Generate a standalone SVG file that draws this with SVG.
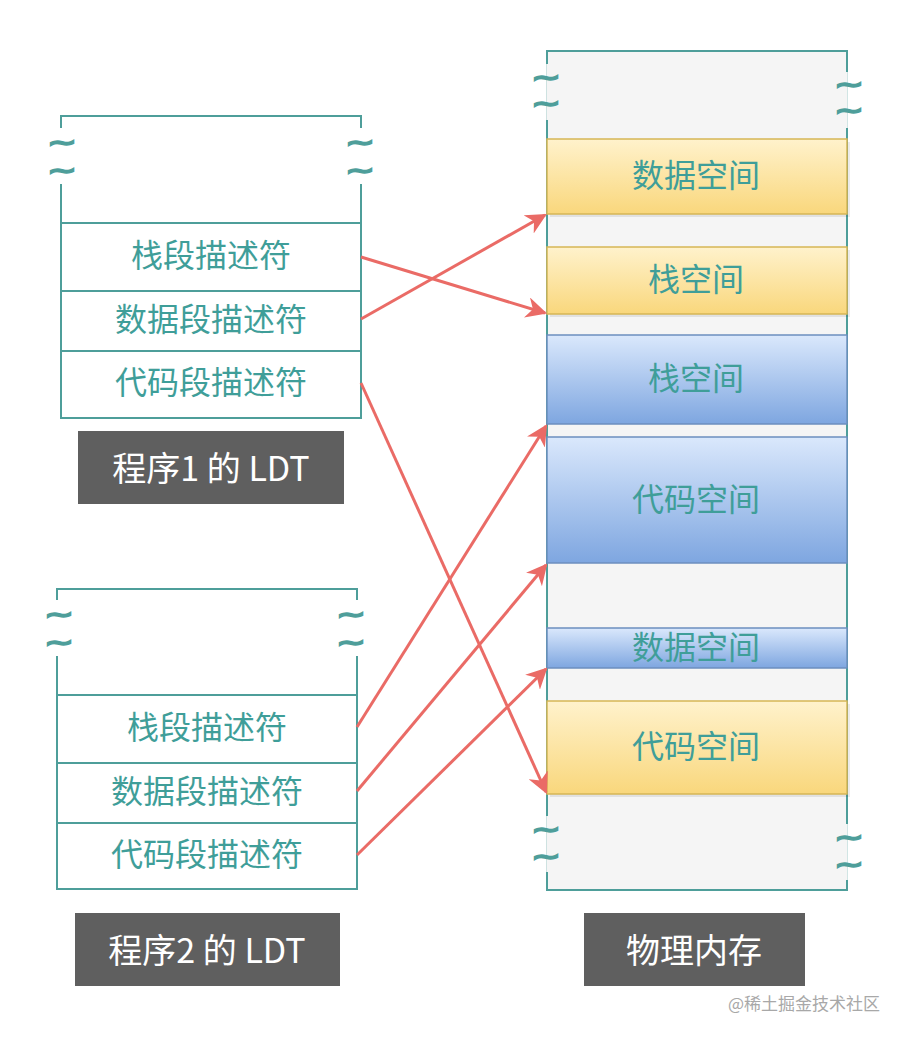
<svg xmlns="http://www.w3.org/2000/svg" width="908" height="1040" viewBox="0 0 908 1040">
<style>
.ldt{fill:#ffffff;stroke:#4e9e9a;stroke-width:2}
.div{stroke:#4e9e9a;stroke-width:2;fill:none}
.t{font-family:"Noto Sans CJK SC","Noto Sans",sans-serif;font-size:32px;fill:#3f9e99;text-anchor:middle;dominant-baseline:central}
.lab{fill:#5f5f5f}
.lt{font-family:"Noto Sans CJK SC","Noto Sans",sans-serif;font-size:34px;fill:#ffffff;text-anchor:middle;dominant-baseline:central}
.tl{font-family:"DejaVu Sans",sans-serif;font-size:22px;font-weight:bold;fill:#4e9e9a;stroke:#4e9e9a;stroke-width:1.5;text-anchor:middle;dominant-baseline:central}
.mem{fill:#f5f5f5;stroke:#4e9e9a;stroke-width:2}
.mw{fill:#ffffff}
.mg{fill:#f5f5f5}
.y{fill:url(#gy);stroke:#d6b656;stroke-width:1.5}
.b{fill:url(#gb);stroke:#6c8ebf;stroke-width:1.5}
.sh{fill:#000;opacity:0.08}
.arr{stroke:#ea6b66;stroke-width:3;fill:none;marker-end:url(#ah)}
</style>
<defs>
<linearGradient id="gy" x1="0" y1="0" x2="0" y2="1"><stop offset="0" stop-color="#fff2cc"/><stop offset="1" stop-color="#f9d77c"/></linearGradient>
<linearGradient id="gb" x1="0" y1="0" x2="0" y2="1"><stop offset="0" stop-color="#dae8fc"/><stop offset="1" stop-color="#7ea6e0"/></linearGradient>
<marker id="ah" viewBox="0 0 10 10" refX="9" refY="5" markerWidth="7" markerHeight="7" orient="auto" markerUnits="strokeWidth"><path d="M0,0 L10,5 L0,10 L3,5 Z" fill="#ea6b66"/></marker>
</defs>

<g id="ldt1">
<rect class="ldt" x="61" y="116" width="300" height="302"/>
<line class="div" x1="61" y1="223" x2="361" y2="223"/>
<line class="div" x1="61" y1="291" x2="361" y2="291"/>
<line class="div" x1="61" y1="351" x2="361" y2="351"/>
<rect x="50" y="128" width="24" height="56" fill="#ffffff"/>
<rect x="348" y="128" width="24" height="56" fill="#ffffff"/>
<text class="tl" transform="translate(62,143) scale(1.6,1)">~</text>
<text class="tl" transform="translate(62,171) scale(1.6,1)">~</text>
<text class="tl" transform="translate(360,143) scale(1.6,1)">~</text>
<text class="tl" transform="translate(360,171) scale(1.6,1)">~</text>
<text class="t" x="211" y="253">栈段描述符</text>
<text class="t" x="211" y="317">数据段描述符</text>
<text class="t" x="211" y="380">代码段描述符</text>
</g>

<g id="label1">
<rect class="lab" x="78" y="431" width="266" height="73"/>
<text class="lt" x="211" y="466">程序1 的 LDT</text>
</g>

<g id="ldt2">
<rect class="ldt" x="57" y="589" width="300" height="300"/>
<line class="div" x1="57" y1="695" x2="357" y2="695"/>
<line class="div" x1="57" y1="763" x2="357" y2="763"/>
<line class="div" x1="57" y1="823" x2="357" y2="823"/>
<rect x="46" y="600" width="24" height="56" fill="#ffffff"/>
<rect x="344" y="600" width="24" height="56" fill="#ffffff"/>
<text class="tl" transform="translate(59,615) scale(1.6,1)">~</text>
<text class="tl" transform="translate(59,643) scale(1.6,1)">~</text>
<text class="tl" transform="translate(351,615) scale(1.6,1)">~</text>
<text class="tl" transform="translate(351,643) scale(1.6,1)">~</text>
<text class="t" x="207" y="725">栈段描述符</text>
<text class="t" x="207" y="789">数据段描述符</text>
<text class="t" x="207" y="852">代码段描述符</text>
</g>

<g id="label2">
<rect class="lab" x="75" y="913" width="265" height="73"/>
<text class="lt" x="207" y="948">程序2 的 LDT</text>
</g>

<g id="memory">
<rect class="mem" x="547" y="51" width="300" height="839"/>
<rect class="mw" x="534" y="64" width="12.5" height="56"/>
<rect class="mg" x="546.5" y="64" width="12" height="56"/>
<rect class="mg" x="836" y="72" width="11.5" height="56"/>
<rect class="mw" x="847.5" y="72" width="13" height="56"/>
<text class="tl" transform="translate(546,78) scale(1.6,1)">~</text>
<text class="tl" transform="translate(546,104) scale(1.6,1)">~</text>
<text class="tl" transform="translate(849,85) scale(1.6,1)">~</text>
<text class="tl" transform="translate(849,111) scale(1.6,1)">~</text>
<rect class="mw" x="534" y="816" width="12.5" height="56"/>
<rect class="mg" x="546.5" y="816" width="12" height="56"/>
<rect class="mg" x="836" y="824" width="11.5" height="56"/>
<rect class="mw" x="847.5" y="824" width="13" height="56"/>
<text class="tl" transform="translate(546,830) scale(1.6,1)">~</text>
<text class="tl" transform="translate(546,857) scale(1.6,1)">~</text>
<text class="tl" transform="translate(849,838) scale(1.6,1)">~</text>
<text class="tl" transform="translate(849,865) scale(1.6,1)">~</text>
</g>

<g id="data-space-1">
<rect class="sh" x="550" y="142" width="300" height="75"/>
<rect class="y" x="547" y="139" width="300" height="75"/>
<text class="t" x="696" y="173">数据空间</text>
</g>
<g id="stack-space-1">
<rect class="sh" x="550" y="250" width="300" height="67"/>
<rect class="y" x="547" y="247" width="300" height="67"/>
<text class="t" x="696" y="277">栈空间</text>
</g>
<g id="stack-space-2">
<rect class="b" x="547" y="335" width="300" height="89"/>
<text class="t" x="696" y="376">栈空间</text>
</g>
<g id="code-space-2">
<rect class="b" x="547" y="437" width="300" height="126"/>
<text class="t" x="696" y="497">代码空间</text>
</g>
<g id="data-space-2">
<rect class="b" x="547" y="628" width="300" height="40"/>
<text class="t" x="696" y="645">数据空间</text>
</g>
<g id="code-space-1">
<rect class="sh" x="550" y="704" width="300" height="93"/>
<rect class="y" x="547" y="701" width="300" height="93"/>
<text class="t" x="696" y="744">代码空间</text>
</g>

<g id="label3">
<rect class="lab" x="584" y="913" width="221" height="73"/>
<text class="lt" x="694" y="948">物理内存</text>
</g>

<g id="connectors">
<line class="arr" x1="361" y1="257" x2="545" y2="313"/>
<line class="arr" x1="361" y1="319" x2="545" y2="215"/>
<line class="arr" x1="361" y1="383" x2="546" y2="792"/>
<line class="arr" x1="357" y1="727" x2="546" y2="426"/>
<line class="arr" x1="357" y1="791" x2="546" y2="565"/>
<line class="arr" x1="357" y1="855" x2="546" y2="669"/>
</g>

<text x="880" y="1002" font-family="'Noto Sans CJK SC','Noto Sans',sans-serif" font-size="17" fill="#a8a8a8" text-anchor="end" dominant-baseline="central">@稀土掘金技术社区</text>
</svg>
